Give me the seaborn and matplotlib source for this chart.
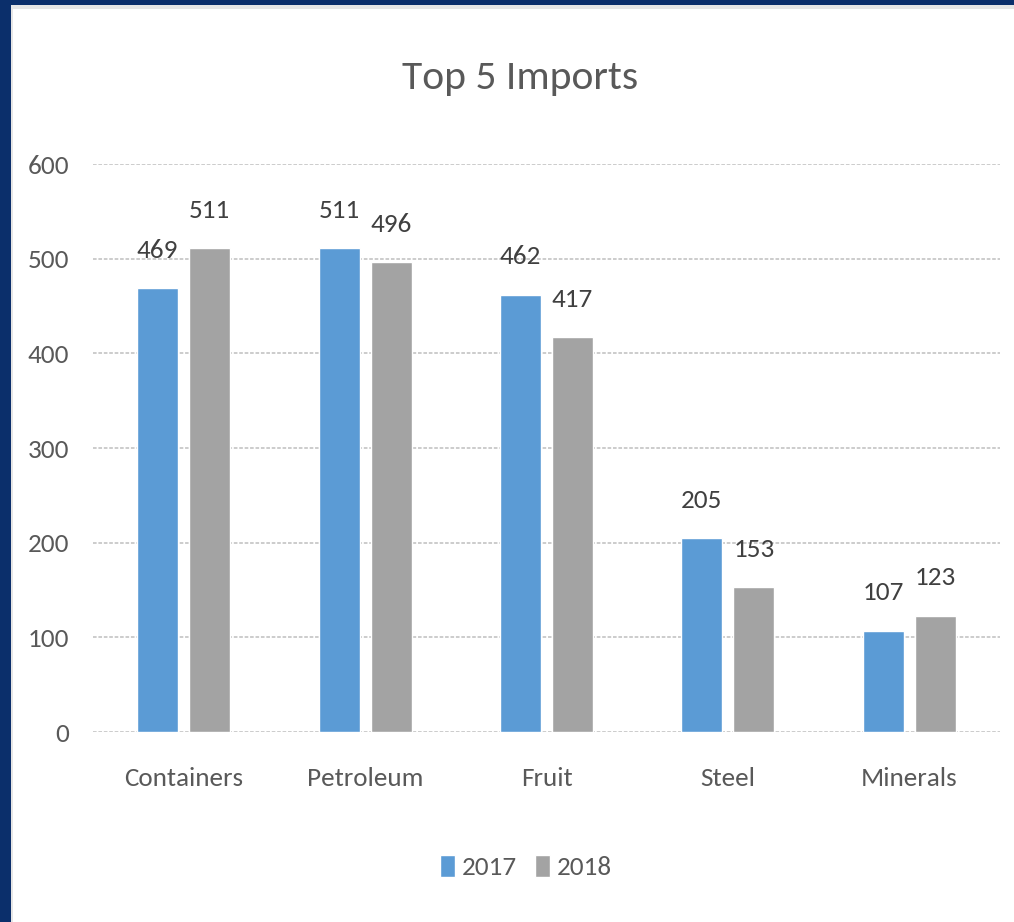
import matplotlib
matplotlib.use("Agg")
import matplotlib.pyplot as plt
from matplotlib.patches import Rectangle
from matplotlib import font_manager
import seaborn as sns
import pandas as pd

categories = ["Containers", "Petroleum", "Fruit", "Steel", "Minerals"]
years = ["2017", "2018"]
values_2017 = [469, 511, 462, 205, 107]
values_2018 = [511, 496, 417, 153, 123]
y_ticks = [0, 100, 200, 300, 400, 500, 600]

colors = {"2017": "#5B9BD5", "2018": "#A3A3A3"}

df = pd.DataFrame({
    "Category": categories * 2,
    "Year": [years[0]] * len(categories) + [years[1]] * len(categories),
    "Value": values_2017 + values_2018,
})

# Calibri look-alike if present
installed = {f.name for f in font_manager.fontManager.ttflist}
wanted = ["Carlito", "Liberation Sans Narrow", "Roboto Condensed", "Arimo"]
chosen = [n for n in wanted if n in installed][:1]

sns.set_theme(style="white")
plt.rcParams["font.family"] = chosen + ["DejaVu Sans"]

fig = plt.figure(figsize=(10.14, 9.22), dpi=100)
fig.patch.set_facecolor("#0B2F6B")
# white slide panel with a faint shadow edge
fig.patches.append(Rectangle((11 / 1014, 0), 1, 1 - 5 / 922, transform=fig.transFigure,
                             facecolor="#E6E6E6", edgecolor="none", zorder=-10))
fig.patches.append(Rectangle((13 / 1014, 0), 1, 1 - 9 / 922, transform=fig.transFigure,
                             facecolor="white", edgecolor="none", zorder=-9))

ax = fig.add_axes([93 / 1014, 1 - 732 / 922, 907 / 1014, 568 / 922])
ax.set_facecolor("none")

sns.barplot(data=df, x="Category", y="Value", hue="Year", palette=colors,
            width=0.573, gap=0.21, saturation=1, ax=ax)

for container in ax.containers:
    ax.bar_label(container, padding=19, fontsize=19.5, color="#404040")

ax.set_ylim(0, 600)
ax.set_xlim(-0.5, len(categories) - 0.5)
ax.set_yticks(y_ticks)
ax.set_axisbelow(True)
ax.yaxis.grid(True, color="#C8C8C8", linestyle=(0, (2, 1)), linewidth=1.3)
ax.xaxis.grid(False)
for side in ["top", "right", "left", "bottom"]:
    ax.spines[side].set_visible(False)
ax.tick_params(axis="y", length=0, pad=17, labelsize=19.5, labelcolor="#595959")
ax.tick_params(axis="x", length=0, pad=25, labelsize=19.5, labelcolor="#595959")
ax.set_xlabel("")
ax.set_ylabel("")

fig.text(520 / 1014, 1 - 78 / 922, "Top 5 Imports", ha="center", va="center",
         fontsize=30, color="#595959")

handles, labels = ax.get_legend_handles_labels()
ax.get_legend().remove()
fig.legend(handles, labels, loc="center", bbox_to_anchor=(526 / 1014, 1 - 867 / 922),
           ncol=2, frameon=False, fontsize=19.5, labelcolor="#595959",
           handlelength=0.55, handleheight=0.85, handletextpad=0.25, columnspacing=0.7)

fig.savefig("out.png", dpi=100)
